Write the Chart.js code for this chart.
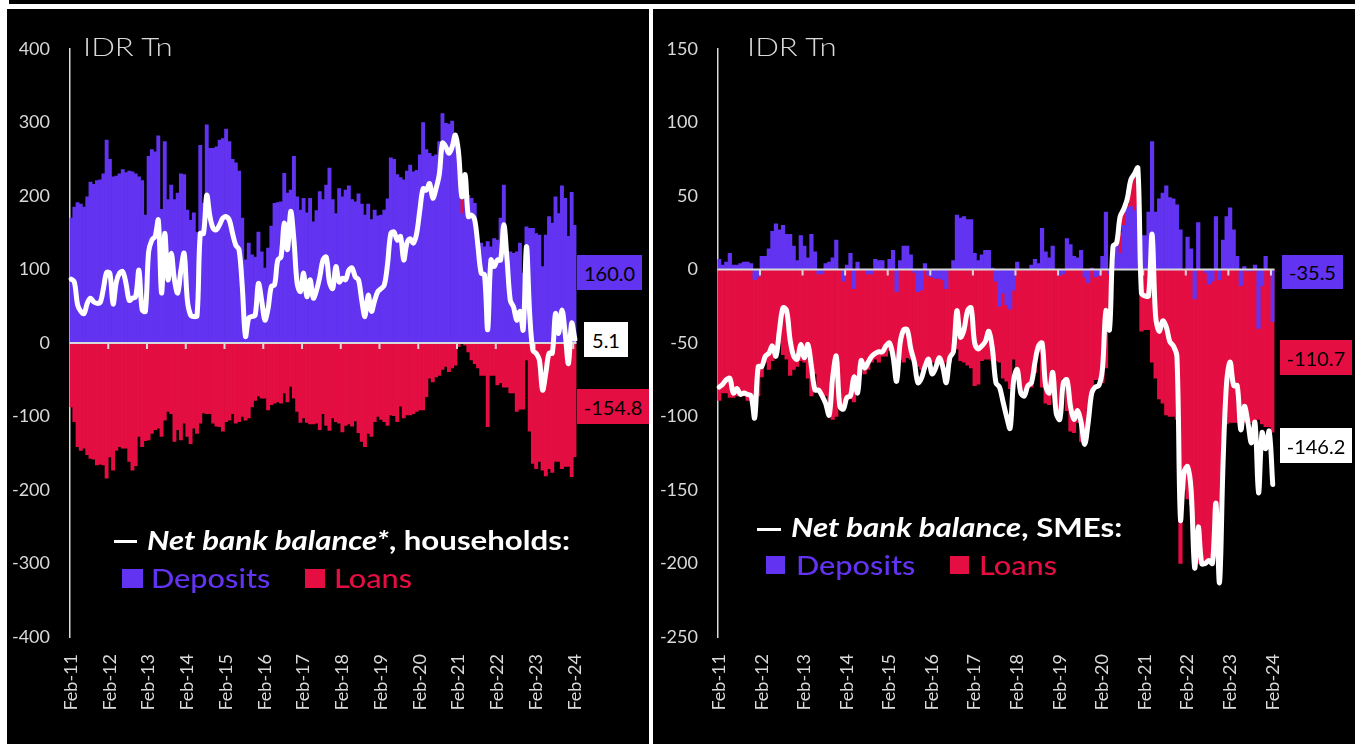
<!DOCTYPE html>
<html><head><meta charset="utf-8">
<script src="https://cdn.jsdelivr.net/npm/chart.js@4.4.1/dist/chart.umd.min.js"></script>
<style>
html,body{margin:0;padding:0;background:#fff;width:1355px;height:744px;overflow:hidden;font-family:Lato,"Open Sans",sans-serif;}
#topbar{position:absolute;left:9px;top:0;width:1346px;height:4px;background:#000;}
.panel{position:absolute;top:9px;height:735px;background:#000;}
#pL{left:7px;width:642px;}
#pR{left:653px;width:702px;}
.panel canvas{position:absolute;left:0;top:0;}
.t{position:absolute;white-space:nowrap;line-height:1;transform-origin:0 0;}
.title{font-size:26px;font-weight:300;color:#d9d9d9;transform:scaleX(1.2);}
.leg1{font-size:26px;font-weight:700;color:#fff;transform:scaleX(1.2);}
.leg2{font-size:26px;font-weight:500;transform:scaleX(1.18);}
.dash{position:absolute;height:3px;background:#fff;}
.sq{position:absolute;}
.box{position:absolute;font-size:20px;color:#000;display:flex;align-items:center;justify-content:center;line-height:1;}
</style></head>
<body>
<div id="topbar"></div>
<div class="panel" id="pL"><canvas id="cL" width="642" height="735" style="width:642px;height:735px"></canvas></div>
<div class="panel" id="pR"><canvas id="cR" width="702" height="735" style="width:702px;height:735px"></canvas></div>

<!-- left overlays -->
<div class="t title" style="left:83px;top:33px">IDR Tn</div>
<div class="dash" style="left:114px;top:540px;width:23px"></div>
<div class="t leg1" style="left:147px;top:527px"><i>Net bank balance*</i>, households:</div>
<div class="sq" id="sqLD" style="left:122px;top:569px;width:21px;height:19px"></div>
<div class="t leg2" id="txLD" style="left:151px;top:565px">Deposits</div>
<div class="sq" id="sqLL" style="left:305px;top:569px;width:20px;height:19px"></div>
<div class="t leg2" id="txLL" style="left:334px;top:565px">Loans</div>
<div class="box" id="bLD" style="left:577px;top:255px;width:65px;height:35px"></div>
<div class="box" id="bLN" style="left:584px;top:322px;width:44px;height:35px;background:#fff"></div>
<div class="box" id="bLL" style="left:577px;top:389px;width:72px;height:35px"></div>

<!-- right overlays -->
<div class="t title" style="left:747px;top:33px">IDR Tn</div>
<div class="dash" style="left:757px;top:528px;width:24px"></div>
<div class="t leg1" style="left:791px;top:514px"><i>Net bank balance</i>, SMEs:</div>
<div class="sq" id="sqRD" style="left:766px;top:556px;width:19px;height:18px"></div>
<div class="t leg2" id="txRD" style="left:796px;top:552px">Deposits</div>
<div class="sq" id="sqRL" style="left:950px;top:556px;width:19px;height:18px"></div>
<div class="t leg2" id="txRL" style="left:979px;top:552px">Loans</div>
<div class="box" id="bRD" style="left:1282px;top:255px;width:61px;height:34px"></div>
<div class="box" id="bRL" style="left:1280px;top:340px;width:72px;height:35px"></div>
<div class="box" id="bRN" style="left:1280px;top:428px;width:72px;height:35px;background:#fff"></div>

<script>
// ---------- data ----------
const MONTHS = ['Jan','Feb','Mar','Apr','May','Jun','Jul','Aug','Sep','Oct','Nov','Dec'];
const yearTickMonth = 'Feb';
const N_MONTHS = 157; // Feb-11 .. Feb-24

const householdDeposits = [170,185,191,189,185,199,219,216,221,222,230,276,250,226,227,230,236,232,234,233,230,226,221,174,254,263,260,282,182,274,195,215,195,204,230,229,181,167,177,151,269,190,297,265,265,267,276,278,291,274,250,245,234,170,113,136,120,117,151,124,102,129,159,190,191,192,231,204,208,254,199,181,197,177,197,165,180,206,195,215,238,195,176,210,199,208,214,195,192,203,189,174,189,168,181,173,174,181,196,252,250,229,225,222,234,242,233,235,256,300,263,258,254,256,274,312,299,298,302,281,263,176,200,201,197,190,136,136,131,138,131,142,140,170,215,122,124,122,124,136,95,158,156,156,149,147,104,147,172,163,199,176,214,197,145,205,160.0];
const householdLoans = [-87,-107,-141,-146,-143,-152,-157,-158,-166,-165,-166,-184,-155,-173,-146,-141,-143,-143,-161,-173,-167,-127,-141,-133,-132,-123,-118,-116,-127,-105,-93,-96,-134,-118,-132,-109,-127,-137,-116,-123,-109,-95,-96,-96,-109,-113,-114,-120,-107,-105,-96,-109,-107,-100,-105,-102,-87,-78,-72,-75,-75,-91,-84,-82,-80,-82,-68,-80,-59,-75,-93,-108,-102,-108,-110,-110,-109,-118,-96,-112,-119,-102,-107,-109,-121,-112,-110,-113,-106,-122,-134,-141,-123,-127,-107,-100,-104,-107,-112,-98,-99,-107,-86,-102,-98,-98,-96,-93,-91,-91,-73,-48,-53,-46,-44,-36,-32,-39,-34,-30,-5,195,-3,-12,-23,-28,-34,-44,-44,-114,-44,-44,-57,-54,-60,-60,-68,-68,-93,-90,-90,-23,-120,-164,-171,-161,-173,-181,-171,-176,-161,-161,-171,-168,-168,-182,-154.8];
const householdNet = [87,83,52,43,40,54,61,56,54,55,74,96,95,53,83,95,97,81,58,61,63,99,45,43,124,140,145,167,68,149,86,122,86,68,99,122,58,38,36,37,149,149,201,172,156,154,161,170,172,167,149,133,127,77,9,34,36,38,81,58,31,47,77,79,113,117,163,127,179,140,81,70,95,63,86,61,72,90,113,117,83,74,104,83,88,86,99,102,90,86,58,36,65,43,58,70,74,79,108,149,151,140,145,113,136,142,136,149,181,210,208,217,197,210,229,272,267,258,267,283,258,199,229,172,174,167,131,95,93,18,113,104,113,113,161,113,58,49,31,43,18,131,40,-10,-14,-23,-64,-41,-14,-14,40,13,45,13,-28,27,5.1];

const smeDeposits = [7,3,5,11,3,3,4,5,5,4,-7,-5,9,9,14,26,31,27,30,24,24,16,6,23,16,8,24,12,-3,-3,4,5,8,20,0,-8,3,11,-13,5,0,0,-3,-3,7,6,6,0,7,13,-15,6,16,16,10,-2,-15,-14,4,-4,-5,-6,-6,-7,-13,0,6,37,35,36,34,34,11,6,10,13,13,1,-8,-25,-16,-24,-27,-14,5,0,0,0,3,7,4,28,12,8,16,0,-4,-3,21,17,9,8,13,-5,-9,1,-5,-4,9,39,-3,5,17,11,30,42,43,40,43,23,23,39,87,39,48,52,57,49,48,44,27,0,22,14,-20,32,0,-2,-10,-8,36,-7,20,36,42,27,9,-11,2,-1,-1,3,-40,-11,9,0,-35.5];
const smeLoans = [-89,-84,-84,-87,-87,-86,-85,-86,-89,-86,-86,-86,-73,-63,-68,-62,-53,-50,-58,-61,-72,-68,-66,-62,-63,-74,-86,-71,-82,-84,-86,-100,-102,-100,-94,-93,-88,-88,-90,-84,-67,-71,-68,-63,-61,-63,-59,-59,-55,-58,-63,-61,-63,-60,-61,-63,-66,-68,-63,-63,-63,-63,-63,-68,-63,-63,-56,-54,-62,-63,-65,-67,-79,-78,-62,-61,-61,-62,-62,-63,-74,-76,-81,-61,-73,-84,-86,-79,-80,-70,-56,-80,-91,-92,-86,-98,-98,-74,-96,-110,-111,-104,-117,-114,-95,-85,-75,-75,-77,-67,-38,2,5,25,38,44,58,63,62,-42,-41,-41,-63,-74,-88,-91,-99,-100,-100,-102,-200,-150,-156,-160,-185,-200,-197,-200,-197,-197,-195,-200,-115,-105,-104,-104,-104,-105,-104,-103,-104,-103,-102,-105,-107,-107,-110.7];
const smeNet = [-80,-78,-75,-74,-84,-81,-85,-84,-85,-86,-101,-66,-66,-59,-57,-52,-59,-41,-26,-28,-48,-59,-61,-51,-60,-51,-66,-82,-82,-86,-91,-99,-73,-59,-93,-95,-87,-86,-73,-84,-62,-67,-63,-59,-57,-56,-56,-52,-50,-59,-76,-50,-41,-41,-54,-63,-77,-74,-66,-61,-71,-67,-60,-66,-77,-60,-56,-28,-46,-41,-28,-26,-50,-54,-52,-49,-42,-54,-77,-80,-90,-100,-108,-75,-68,-84,-86,-79,-77,-63,-52,-50,-79,-84,-70,-98,-102,-77,-75,-93,-102,-96,-104,-119,-104,-84,-80,-79,-68,-28,-41,16,18,36,41,48,61,65,69,-16,-18,-18,24,-32,-42,-35,-39,-49,-52,-59,-170,-138,-134,-150,-203,-175,-200,-200,-198,-200,-159,-213,-132,-77,-63,-79,-79,-109,-93,-104,-118,-104,-152,-111,-122,-110,-146.2];

const leftAxis = {min:-400, max:400, step:100};
const rightAxis = {min:-250, max:150, step:50};

// ---------- style ----------
const PURPLE = '#6233F0';
const RED = '#E40E42';
const GREY = '#d9d9d9';
const FONT = 'Lato, "Open Sans", sans-serif';

const categories = [];
for (let k = 0; k < N_MONTHS; k++) {
  const m = (1 + k) % 12;
  const y = 11 + Math.floor((1 + k) / 12);
  categories.push(MONTHS[m] + '-' + String(y).padStart(2, '0'));
}

const zeroPlugin = {
  id: 'zeroLine',
  beforeDatasetDraw(chart, args) {
    if (args.meta.type !== 'line') return;
    const {ctx, chartArea: a, scales: {x, y}} = chart;
    const y0 = y.getPixelForValue(0);
    ctx.save();
    ctx.strokeStyle = GREY;
    ctx.lineWidth = 2;
    ctx.beginPath();
    ctx.moveTo(a.left, y0); ctx.lineTo(a.right, y0);
    const labels = chart.data.labels;
    for (let i = 1; i < labels.length; i++) {
      if (labels[i].startsWith(yearTickMonth)) {
        const xp = (x.getPixelForValue(i - 1) + x.getPixelForValue(i)) / 2;
        ctx.moveTo(xp, y0); ctx.lineTo(xp, y0 + 6);
      }
    }
    ctx.stroke();
    ctx.restore();
  }
};

function makeChart(id, dep, loans, net, ax, yWidth, padRight, canvasH, plotBottom) {
  return new Chart(document.getElementById(id), {
    type: 'bar',
    data: {
      labels: categories,
      datasets: [
        {type: 'line', data: net, borderColor: '#fff', borderWidth: 5, pointRadius: 0,
         tension: 0.35, borderCapStyle: 'round', borderJoinStyle: 'round', order: 0},
        {data: dep, backgroundColor: PURPLE, borderWidth: 0, order: 1,
         barPercentage: 1, categoryPercentage: 1, grouped: false},
        {data: loans, backgroundColor: RED, borderWidth: 0, order: 2,
         barPercentage: 1, categoryPercentage: 1, grouped: false}
      ]
    },
    options: {
      responsive: false, animation: false, devicePixelRatio: 1,
      layout: {padding: {left: 0, right: padRight, top: 40, bottom: 0}},
      plugins: {legend: {display: false}, tooltip: {enabled: false}},
      scales: {
        x: {
          grid: {display: false, drawTicks: false},
          border: {display: false},
          ticks: {
            autoSkip: false, maxRotation: 90, minRotation: 90, padding: 17,
            color: GREY, font: {family: FONT, size: 18},
            callback: (v, i) => categories[i].startsWith(yearTickMonth) ? categories[i] : ''
          },
          afterFit: s => { s.height = canvasH - plotBottom; }
        },
        y: {
          min: ax.min, max: ax.max,
          grid: {display: false, drawTicks: false},
          border: {display: true, color: GREY, width: 1.5},
          ticks: {stepSize: ax.step, padding: 19.5, color: GREY, font: {family: FONT, size: 18}},
          afterFit: s => { s.width = yWidth; }
        }
      }
    },
    plugins: [zeroPlugin]
  });
}

makeChart('cL', householdDeposits, householdLoans, householdNet, leftAxis, 62.5, 72.5, 735, 628);
makeChart('cR', smeDeposits, smeLoans, smeNet, rightAxis, 64.4, 80.5, 735, 628);

// legend colours & value boxes
for (const id of ['sqLD','sqRD']) document.getElementById(id).style.background = PURPLE;
for (const id of ['sqLL','sqRL']) document.getElementById(id).style.background = RED;
for (const id of ['txLD','txRD']) document.getElementById(id).style.color = PURPLE;
for (const id of ['txLL','txRL']) document.getElementById(id).style.color = RED;
const last = a => a[a.length - 1].toFixed(1);
const setBox = (id, txt, bg) => { const e = document.getElementById(id); e.textContent = txt; if (bg) e.style.background = bg; };
setBox('bLD', last(householdDeposits), PURPLE);
setBox('bLN', last(householdNet));
setBox('bLL', last(householdLoans), RED);
setBox('bRD', last(smeDeposits), PURPLE);
setBox('bRL', last(smeLoans), RED);
setBox('bRN', last(smeNet));
</script>
</body></html>
